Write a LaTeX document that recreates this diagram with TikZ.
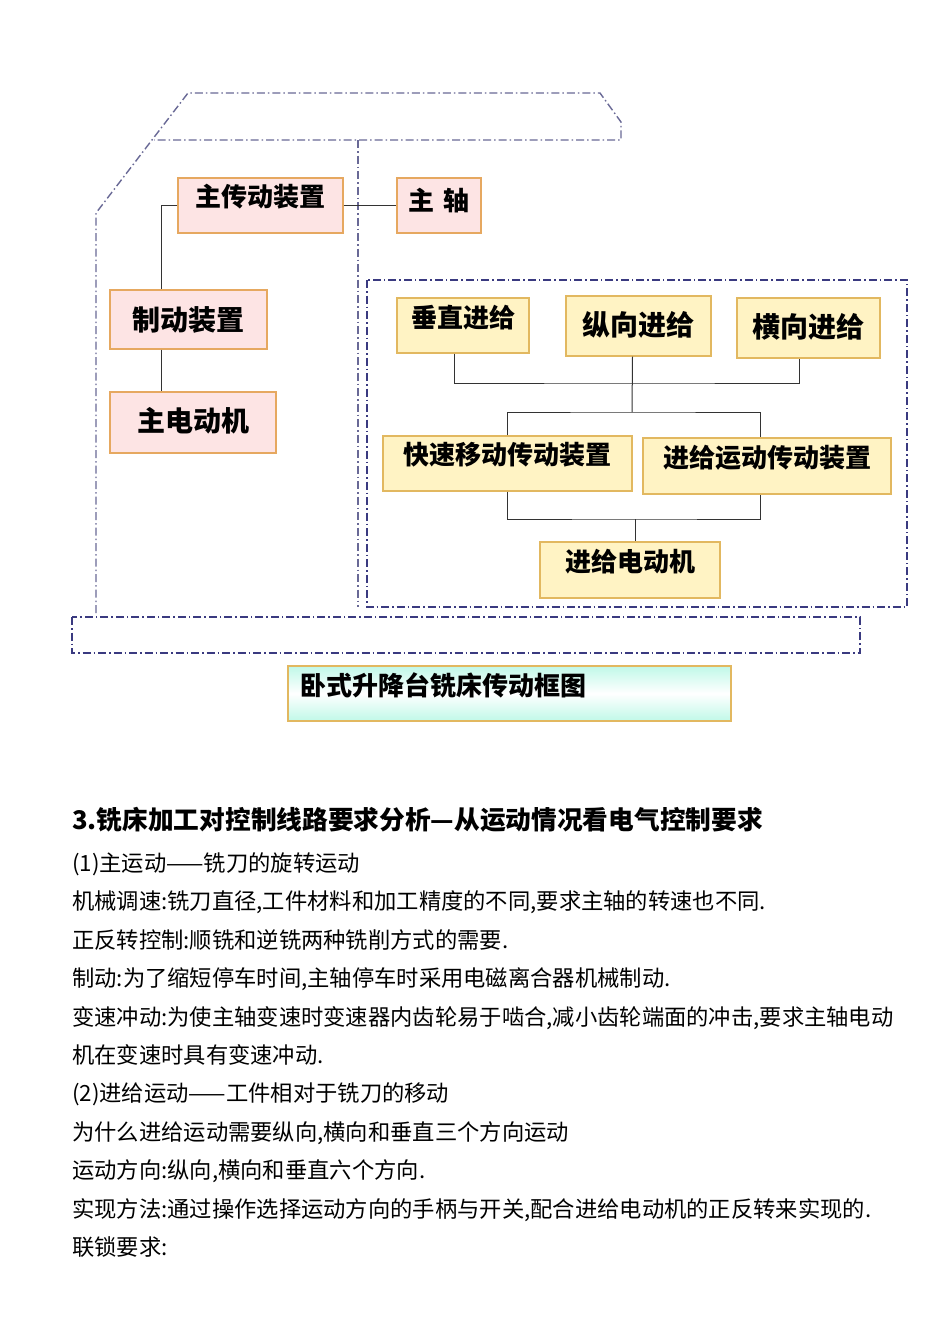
\documentclass[tikz,border=0pt]{standalone}
\usepackage{fontspec}
\setmainfont{Noto Sans CJK SC}
\usetikzlibrary{positioning}
\definecolor{pinkfill}{RGB}{253,228,228}
\definecolor{pinkline}{RGB}{230,168,96}
\definecolor{yelfill}{RGB}{255,243,196}
\definecolor{yelline}{RGB}{226,184,96}
\definecolor{framecol}{RGB}{105,105,150}
\definecolor{navycol}{RGB}{58,58,128}
\definecolor{aquafill}{RGB}{192,248,232}

\begin{document}
\begin{tikzpicture}[x=1pt, y=-1pt,
  box/.style={draw, line width=1.2pt, inner sep=0pt,
              font=\fontsize{26}{26}\selectfont\bfseries},
  pbox/.style={box, fill=pinkfill, draw=pinkline},
  ybox/.style={box, fill=yelfill, draw=yelline},
  big/.style={font=\fontsize{28}{28}\selectfont\bfseries},
  lift/.style={text depth=#1},
  link/.style={draw=black!80, line width=1pt},
  frame/.style={draw=framecol, line width=1.4pt,
                dash pattern=on 8pt off 3pt on 1.5pt off 3pt},
  hd/.style={anchor=base west, inner sep=0pt,
             font=\fontsize{25.7}{28}\selectfont\bfseries},
  tx/.style={anchor=base west, inner sep=0pt,
             font=\fontsize{22.3}{26}\selectfont}
]
\useasboundingbox (0,0) rectangle (950,1344);
\fill[white] (0,0) rectangle (950,1344);

% ---- cadres du bati ----------------------------------------------------
\draw[frame] (96,613) -- (96,213) -- (188,93) -- (600,93) -- (621,122)
  -- (621,140) -- (154,140);
\draw[frame] (358,140) -- (358,607);
\draw[frame, draw=navycol] (367,280) rectangle (907,607);
\draw[frame, draw=navycol] (72,617) rectangle (860,653);

% ---- chaine principale -------------------------------------------------
\node[pbox, minimum width=165pt, minimum height=55pt, lift=20pt]
  (drive) at (260.5,205.5) {主传动装置};
\node[pbox, minimum width=84pt, minimum height=55pt, lift=12pt]
  (spindle) at (439,205.5) {主\hspace{4pt} 轴};
\node[pbox, big, minimum width=157pt, minimum height=59pt]
  (brake) at (188.5,319.5) {制动装置};
\node[pbox, big, minimum width=166pt, minimum height=61pt, lift=6.4pt]
  (mmotor) at (193,422.5) {主电动机};

\coordinate (lbus) at (161,205.5);
\draw[link] (drive.west) -| (lbus |- brake.north);
\draw[link] (brake.south -| lbus) -- (mmotor.north -| lbus);
\draw[link] (drive.east) -- (spindle.west);

% ---- chaine d'avance ---------------------------------------------------
\node[ybox, minimum width=132pt, minimum height=55pt, lift=18pt]
  (vert) at (463,325.5) {垂直进给};
\node[ybox, big, minimum width=145pt, minimum height=60pt, lift=5.4pt]
  (long) at (638.5,326) {纵向进给};
\node[ybox, big, minimum width=143pt, minimum height=60pt, lift=5.4pt]
  (cross) at (808.5,328) {横向进给};
\node[ybox, minimum width=249pt, minimum height=55pt, lift=20pt]
  (quick) at (507.5,463.5) {快速移动传动装置};
\node[ybox, minimum width=248pt, minimum height=56pt, lift=19pt]
  (feedtr) at (767,466) {进给运动传动装置};
\node[ybox, minimum width=180pt, minimum height=56pt, lift=19pt]
  (fmotor) at (630,570) {进给电动机};

\coordinate (bus1) at (632,383);
\coordinate (bus2) at (632,412);
\coordinate (bus3) at (635,519);
\draw[link] ([xshift=-9pt]vert.south) |- (bus1) -| ([xshift=-9pt]cross.south);
\draw[link] ([xshift=-6pt]long.south) -- (bus2);
\draw[link] (quick.north) |- (bus2) -| ([xshift=-7pt]feedtr.north);
\draw[link] (quick.south) |- (bus3) -| ([xshift=-7pt]feedtr.south);
\draw[link] (bus3) -- ([xshift=5pt]fmotor.north);

% ---- titre -------------------------------------------------------------
\node[box, draw=yelline, top color=aquafill, bottom color=aquafill,
      middle color=white, minimum width=443pt, minimum height=55pt,
      text width=419pt, align=left, inner xsep=12pt, lift=18pt]
  (title) at (509.5,693.5) {卧式升降台铣床传动框图};

% ---- texte -------------------------------------------------------------
\node[hd] (head) at (72,829) {3.铣床加工对控制线路要求分析—从运动情况看电气控制要求};
\foreach \t [count=\i from 0] in {
  {(1)主运动——铣刀的旋转运动},
  {机械调速:铣刀直径,工件材料和加工精度的不同,要求主轴的转速也不同.},
  {正反转控制:顺铣和逆铣两种铣削方式的需要.},
  {制动:为了缩短停车时间,主轴停车时采用电磁离合器机械制动.},
  {变速冲动:为使主轴变速时变速器内齿轮易于啮合,减小齿轮端面的冲击,要求主轴电动},
  {机在变速时具有变速冲动.},
  {(2)进给运动——工件相对于铣刀的移动},
  {为什么进给运动需要纵向,横向和垂直三个方向运动},
  {运动方向:纵向,横向和垂直六个方向.},
  {实现方法:通过操作选择运动方向的手柄与开关,配合进给电动机的正反转来实现的.},
  {联锁要求:}}
  \node[tx] (ln\i) at (72,871.4+\i*38.4) {\t};
\end{tikzpicture}
\end{document}
